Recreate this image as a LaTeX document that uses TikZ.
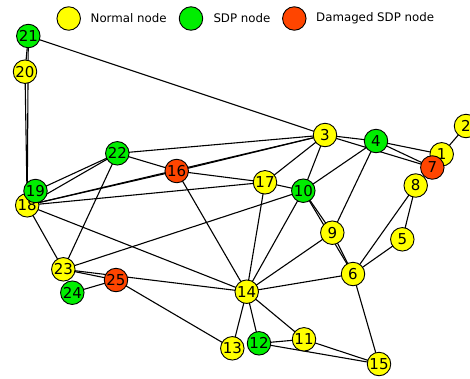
\documentclass[tikz,border=0pt]{standalone}
\usepackage{fontspec}
\setmainfont{DejaVu Sans}
\usetikzlibrary{backgrounds}
\definecolor{normalc}{HTML}{FFFF00}
\definecolor{sdpc}{HTML}{00EE00}
\definecolor{damagedc}{HTML}{FF4500}
\tikzset{
  vtx/.style={circle, draw=black, line width=0.9pt, minimum size=23.5pt, inner sep=0pt,
    font=\fontsize{15}{15}\selectfont},
  nrm/.style={vtx, fill=normalc},
  sdp/.style={vtx, fill=sdpc},
  dmg/.style={vtx, fill=damagedc},
  edge/.style={line width=1.1pt, black},
  legtext/.style={anchor=west, inner sep=0pt, font=\fontsize{11.8}{12}\selectfont}
}
\begin{document}
\begin{tikzpicture}[x=1pt, y=-1pt]
\useasboundingbox (0,0) rectangle (470,378);
\clip (0,0) rectangle (470,378);

% legend
\node[nrm] (lgN) at (68.7,18.5) {};
\node[legtext] (lgNt) at (90.5,18.5) {Normal node};
\node[sdp] (lgS) at (191,18.5) {};
\node[legtext] (lgSt) at (213.3,18.5) {SDP node};
\node[dmg] (lgD) at (294.3,18.5) {};
\node[legtext] (lgDt) at (316,18.5) {Damaged SDP node};

% vertices
\node[nrm] (n1)  at (441.7,154.3) {1};
\node[nrm] (n2)  at (466,126) {2};
\node[nrm] (n3)  at (325,135) {3};
\node[sdp] (n4)  at (376,141) {4};
\node[nrm] (n5)  at (402.3,239.3) {5};
\node[nrm] (n6)  at (353,274) {6};
\node[nrm] (n8)  at (415.7,185.5) {8};
\node[dmg] (n7)  at (432.3,167.5) {7};
\node[nrm] (n9)  at (332.3,232.7) {9};
\node[sdp] (n10) at (303.3,190.7) {10};
\node[nrm] (n11) at (304,339.3) {11};
\node[nrm] (n13) at (232.3,348.3) {13};
\node[sdp] (n12) at (259,343.3) {12};
\node[nrm] (n14) at (246.7,291.7) {14};
\node[nrm] (n15) at (379,364) {15};
\node[dmg] (n16) at (176.7,171) {16};
\node[nrm] (n17) at (265,182.3) {17};
\node[nrm] (n18) at (27.2,205.3) {18};
\node[sdp] (n19) at (35.5,191) {19};
\node[nrm] (n20) at (25,71.7) {20};
\node[sdp] (n21) at (28.3,36) {21};
\node[sdp] (n22) at (117.3,153.3) {22};
\node[nrm] (n23) at (63.3,269.3) {23};
\node[sdp] (n24) at (72.3,292.7) {24};
\node[dmg] (n25) at (116,280) {25};

% connections, drawn underneath the vertices
\begin{scope}[on background layer]
\fill[white] (0,0) rectangle (470,378);
\foreach \a/\b in {
  21/20, 21/18, 20/18, 21/3,
  22/19, 22/18, 22/16, 22/3, 22/23,
  18/16, 18/3, 16/3,
  16/17, 18/17, 17/10, 16/14, 18/14, 18/23,
  23/10, 23/25, 23/14, 24/25, 25/13,
  3/17, 3/10, 3/4, 3/7, 4/1, 4/7, 4/10, 4/9, 1/2,
  10/9, 9/6, 10/6, 10/14, 17/14, 9/14, 6/14,
  8/6, 8/5, 5/6, 6/15,
  14/13, 14/12, 14/11, 12/11, 12/15, 11/15}
  \draw[edge] (n\a.center) -- (n\b.center);
\end{scope}
\end{tikzpicture}
\end{document}
